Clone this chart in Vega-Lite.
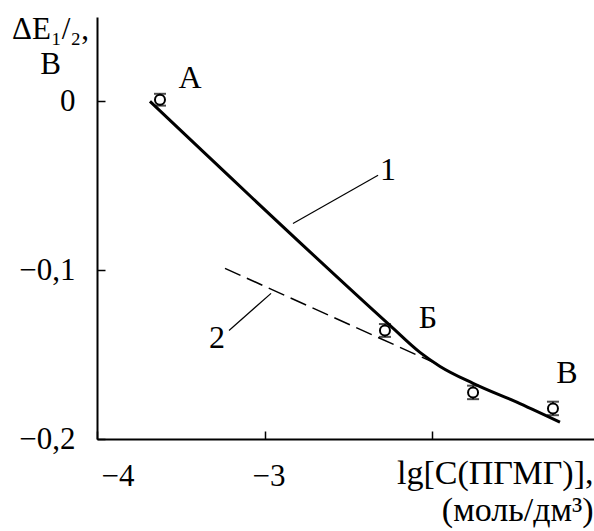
{
  "$schema": "https://vega.github.io/schema/vega-lite/v6.json",
  "width": 497,
  "height": 422,
  "autosize": {"type": "none"},
  "padding": {"left": 97, "top": 17, "right": 0, "bottom": 92},
  "background": "white",
  "config": {
    "view": {"stroke": null},
    "font": "Liberation Serif",
    "axis": {
      "grid": false,
      "domainColor": "black",
      "domainWidth": 2,
      "tickColor": "black",
      "tickWidth": 1.5,
      "tickSize": -8,
      "labelFont": "Liberation Serif",
      "labelFontSize": 31,
      "labelColor": "black",
      "titleFont": "Liberation Serif",
      "titleFontSize": 34,
      "titleFontWeight": "normal",
      "titleColor": "black"
    }
  },
  "datasets": {
    "points": [
      {"x": -3.624, "y": 0.001, "lo": -0.0025, "hi": 0.0045},
      {"x": -2.281, "y": -0.1357, "lo": -0.1395, "hi": -0.1319},
      {"x": -1.755, "y": -0.1724, "lo": -0.1764, "hi": -0.1684},
      {"x": -1.278, "y": -0.1819, "lo": -0.1859, "hi": -0.1779}
    ],
    "curve1": [
      {"x": -3.684, "y": 0.0},
      {"x": -2.251, "y": -0.1327},
      {"x": -2.072, "y": -0.1487},
      {"x": -1.952, "y": -0.157},
      {"x": -1.755, "y": -0.167},
      {"x": -1.475, "y": -0.179},
      {"x": -1.236, "y": -0.19}
    ],
    "curve2": [
      {"x": -3.236, "y": -0.0989},
      {"x": -1.952, "y": -0.1564}
    ],
    "leaders": [
      {"x1": -2.830, "y1": -0.0723, "x2": -2.322, "y2": -0.0438},
      {"x1": -3.212, "y1": -0.1357, "x2": -2.961, "y2": -0.1137}
    ],
    "labels": [
      {"x": -3.445, "y": 0.0136, "t": "А"},
      {"x": -2.024, "y": -0.1286, "t": "Б"},
      {"x": -1.194, "y": -0.1611, "t": "В"},
      {"x": -2.263, "y": -0.0409, "t": "1"},
      {"x": -3.284, "y": -0.1404, "t": "2"}
    ]
  },
  "encoding": {
    "x": {
      "field": "x",
      "type": "quantitative",
      "scale": {"domain": [-4, -1.033], "nice": false, "zero": false},
      "axis": {
        "values": [-4, -3, -2],
        "format": "d",
        "labelExpr": "datum.value == -2 ? '' : datum.label",
        "labelFont": "Liberation Serif",
        "labelPadding": 30,
        "labelOffset": 4,
        "title": ["lg[C(ПГМГ)],", "(моль/дм³)"],
        "titleAlign": "right",
        "titleAnchor": "end",
        "titleX": 496,
        "titleY": 44,
        "titleBaseline": "alphabetic",
        "titleLineHeight": 37
      }
    },
    "y": {
      "field": "y",
      "type": "quantitative",
      "scale": {"domain": [-0.2, 0.05], "nice": false, "zero": false},
      "axis": {
        "values": [-0.2, -0.1, 0],
        "labelExpr": "datum.value == 0 ? '0' : replace(format(datum.value, '.1f'), '.', ',')",
        "labelFont": "Liberation Serif",
        "labelPadding": 30,
        "labelBaseline": "middle",
        "title": ["ΔE₁/₂,", "В"],
        "titleFontSize": 31,
        "titleAngle": 0,
        "titleAlign": "center",
        "titleX": -47,
        "titleY": -3,
        "titleBaseline": "top",
        "titleLineHeight": 35
      }
    }
  },
  "layer": [
    {
      "data": {"name": "curve2"},
      "mark": {"type": "line", "color": "black", "strokeWidth": 1.5, "strokeDash": [17, 7]}
    },
    {
      "data": {"name": "curve1"},
      "mark": {"type": "line", "color": "black", "strokeWidth": 3, "interpolate": "monotone"}
    },
    {
      "data": {"name": "leaders"},
      "mark": {"type": "rule", "color": "black", "strokeWidth": 1.2},
      "encoding": {
        "x": {"field": "x1", "type": "quantitative"},
        "y": {"field": "y1", "type": "quantitative"},
        "x2": {"field": "x2"},
        "y2": {"field": "y2"}
      }
    },
    {
      "data": {"name": "points"},
      "mark": {"type": "rule", "color": "black", "strokeWidth": 1.5},
      "encoding": {
        "y": {"field": "lo", "type": "quantitative"},
        "y2": {"field": "hi"}
      }
    },
    {
      "data": {"name": "points"},
      "mark": {"type": "tick", "orient": "horizontal", "color": "black", "size": 12, "thickness": 2},
      "encoding": {"y": {"field": "hi", "type": "quantitative"}}
    },
    {
      "data": {"name": "points"},
      "mark": {"type": "tick", "orient": "horizontal", "color": "black", "size": 12, "thickness": 2},
      "encoding": {"y": {"field": "lo", "type": "quantitative"}}
    },
    {
      "data": {"name": "points"},
      "mark": {"type": "point", "shape": "circle", "filled": true, "fill": "white", "stroke": "black", "strokeWidth": 2, "size": 100, "opacity": 1}
    },
    {
      "data": {"name": "labels"},
      "mark": {"type": "text", "font": "Liberation Serif", "fontSize": 32, "color": "black", "align": "center", "baseline": "middle"},
      "encoding": {"text": {"field": "t"}}
    }
  ]
}
